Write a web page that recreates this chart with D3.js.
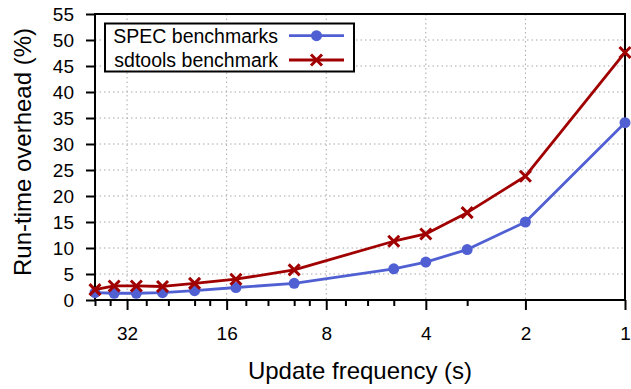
<!DOCTYPE html>
<html>
<head>
<meta charset="utf-8">
<script src="https://cdn.jsdelivr.net/npm/d3@7"></script>
<style>
  body { margin: 0; background: white; }
  svg { display: block; font-family: 'Liberation Sans', Arial, sans-serif; }
</style>
</head>
<body>
<div id="app"></div>
<script>
  // data
  const updateFrequency = [40, 35, 30, 25, 20, 15, 10, 5, 4, 3, 2, 1];
  const specOverhead = [1.4, 1.3, 1.3, 1.4, 1.8, 2.4, 3.2, 6.0, 7.3, 9.7, 15.0, 34.1];
  const sdtoolsOverhead = [2.0, 2.7, 2.7, 2.6, 3.2, 4.0, 5.8, 11.3, 12.7, 16.8, 23.8, 47.6];
  const xMajorTicks = [32, 16, 8, 4, 2, 1];
  const xMinorTicks = [40, 36, 28, 24, 20, 18, 14, 12, 10, 9, 7, 6, 5, 3];
  const yTicks = [0, 5, 10, 15, 20, 25, 30, 35, 40, 45, 50, 55];

  const series = [
    { name: 'SPEC benchmarks', values: specOverhead, color: '#5060d2', marker: 'circle' },
    { name: 'sdtools benchmark', values: sdtoolsOverhead, color: '#a00000', marker: 'cross' },
  ];

  // canvas
  const containerWidth = 631;
  const containerHeight = 389;
  const margin = { top: 14, right: 6, bottom: 89, left: 95 };
  const width = containerWidth - margin.left - margin.right;
  const height = containerHeight - margin.top - margin.bottom;

  const wrapper = d3
    .select('#app')
    .append('svg')
    .attr('width', containerWidth)
    .attr('height', containerHeight);

  const bounds = wrapper
    .append('g')
    .attr('transform', `translate(${margin.left},${margin.top})`);

  // scales
  const xScale = d3.scaleLog().base(2).domain([40, 1]).range([0, width]);
  const yScale = d3.scaleLinear().domain([0, 55]).range([height, 0]);

  // grid
  const grid = bounds.append('g').attr('class', 'grid');
  grid
    .selectAll('.grid-x')
    .data(xMajorTicks.filter((d) => d !== 1))
    .enter()
    .append('line')
    .attr('x1', xScale)
    .attr('x2', xScale)
    .attr('y1', 0)
    .attr('y2', height);
  grid
    .selectAll('.grid-y')
    .data(yTicks.filter((d) => d !== 0 && d !== 55))
    .enter()
    .append('line')
    .attr('x1', 0)
    .attr('x2', width)
    .attr('y1', yScale)
    .attr('y2', yScale);
  grid
    .selectAll('line')
    .attr('stroke', '#a8a8a8')
    .attr('stroke-width', 1)
    .attr('stroke-dasharray', '1.5,3');

  // axes
  bounds
    .append('g')
    .attr('transform', `translate(0,${height})`)
    .call(
      d3.axisBottom(xScale).tickValues(xMajorTicks).tickFormat(d3.format('d')).tickSize(10).tickPadding(17)
    );
  bounds
    .append('g')
    .attr('transform', `translate(0,${height})`)
    .call(d3.axisBottom(xScale).tickValues(xMinorTicks).tickFormat('').tickSize(6))
    .call((g) => g.select('.domain').remove());

  bounds
    .append('g')
    .call(d3.axisLeft(yScale).tickValues(yTicks).tickSize(9).tickPadding(12));

  bounds.selectAll('.tick line').attr('stroke', '#000').attr('stroke-width', 2);
  bounds.selectAll('.domain').remove();
  bounds
    .selectAll('.tick text')
    .attr('font-size', 19)
    .attr('font-family', "'Liberation Sans', Arial, sans-serif")
    .attr('fill', '#000');

  // border
  bounds
    .append('rect')
    .attr('width', width)
    .attr('height', height)
    .attr('fill', 'none')
    .attr('stroke', '#000')
    .attr('stroke-width', 2);

  // axis labels
  wrapper
    .append('text')
    .attr('x', margin.left + width / 2)
    .attr('y', 379)
    .attr('text-anchor', 'middle')
    .attr('font-size', 24)
    .text('Update frequency (s)');

  wrapper
    .append('text')
    .attr('transform', 'rotate(-90)')
    .attr('x', -152)
    .attr('y', 31)
    .attr('text-anchor', 'middle')
    .attr('font-size', 24)
    .text('Run-time overhead (%)');

  // lines
  const lineGenerator = d3
    .line()
    .x((d, i) => xScale(updateFrequency[i]))
    .y((d) => yScale(d));

  const drawMarker = (g, type, color, x, y) => {
    if (type === 'circle') {
      g.append('circle').attr('cx', x).attr('cy', y).attr('r', 5.5).attr('fill', color);
    } else {
      const s = 5.5;
      g.append('path')
        .attr('d', `M${x - s},${y - s}L${x + s},${y + s}M${x - s},${y + s}L${x + s},${y - s}`)
        .attr('stroke', color)
        .attr('stroke-width', 3)
        .attr('fill', 'none');
    }
  };

  series.forEach((s) => {
    const g = bounds.append('g');
    g.append('path')
      .attr('d', lineGenerator(s.values))
      .attr('fill', 'none')
      .attr('stroke', s.color)
      .attr('stroke-width', 2.8)
      .attr('stroke-linejoin', 'round');
    s.values.forEach((v, i) => drawMarker(g, s.marker, s.color, xScale(updateFrequency[i]), yScale(v)));
  });

  // legend
  const legend = wrapper.append('g');
  legend
    .append('rect')
    .attr('x', 105)
    .attr('y', 23.5)
    .attr('width', 249)
    .attr('height', 48)
    .attr('fill', 'white')
    .attr('stroke', '#000')
    .attr('stroke-width', 2);

  series.forEach((s, i) => {
    const y = 35.7 + i * 24.3;
    legend
      .append('text')
      .attr('x', 278)
      .attr('y', y)
      .attr('dy', '0.35em')
      .attr('text-anchor', 'end')
      .attr('font-size', 19.5)
      .text(s.name);
    legend
      .append('line')
      .attr('x1', 289)
      .attr('x2', 344)
      .attr('y1', y)
      .attr('y2', y)
      .attr('stroke', s.color)
      .attr('stroke-width', 2.8);
    drawMarker(legend, s.marker, s.color, 316.5, y);
  });
</script>
</body>
</html>
